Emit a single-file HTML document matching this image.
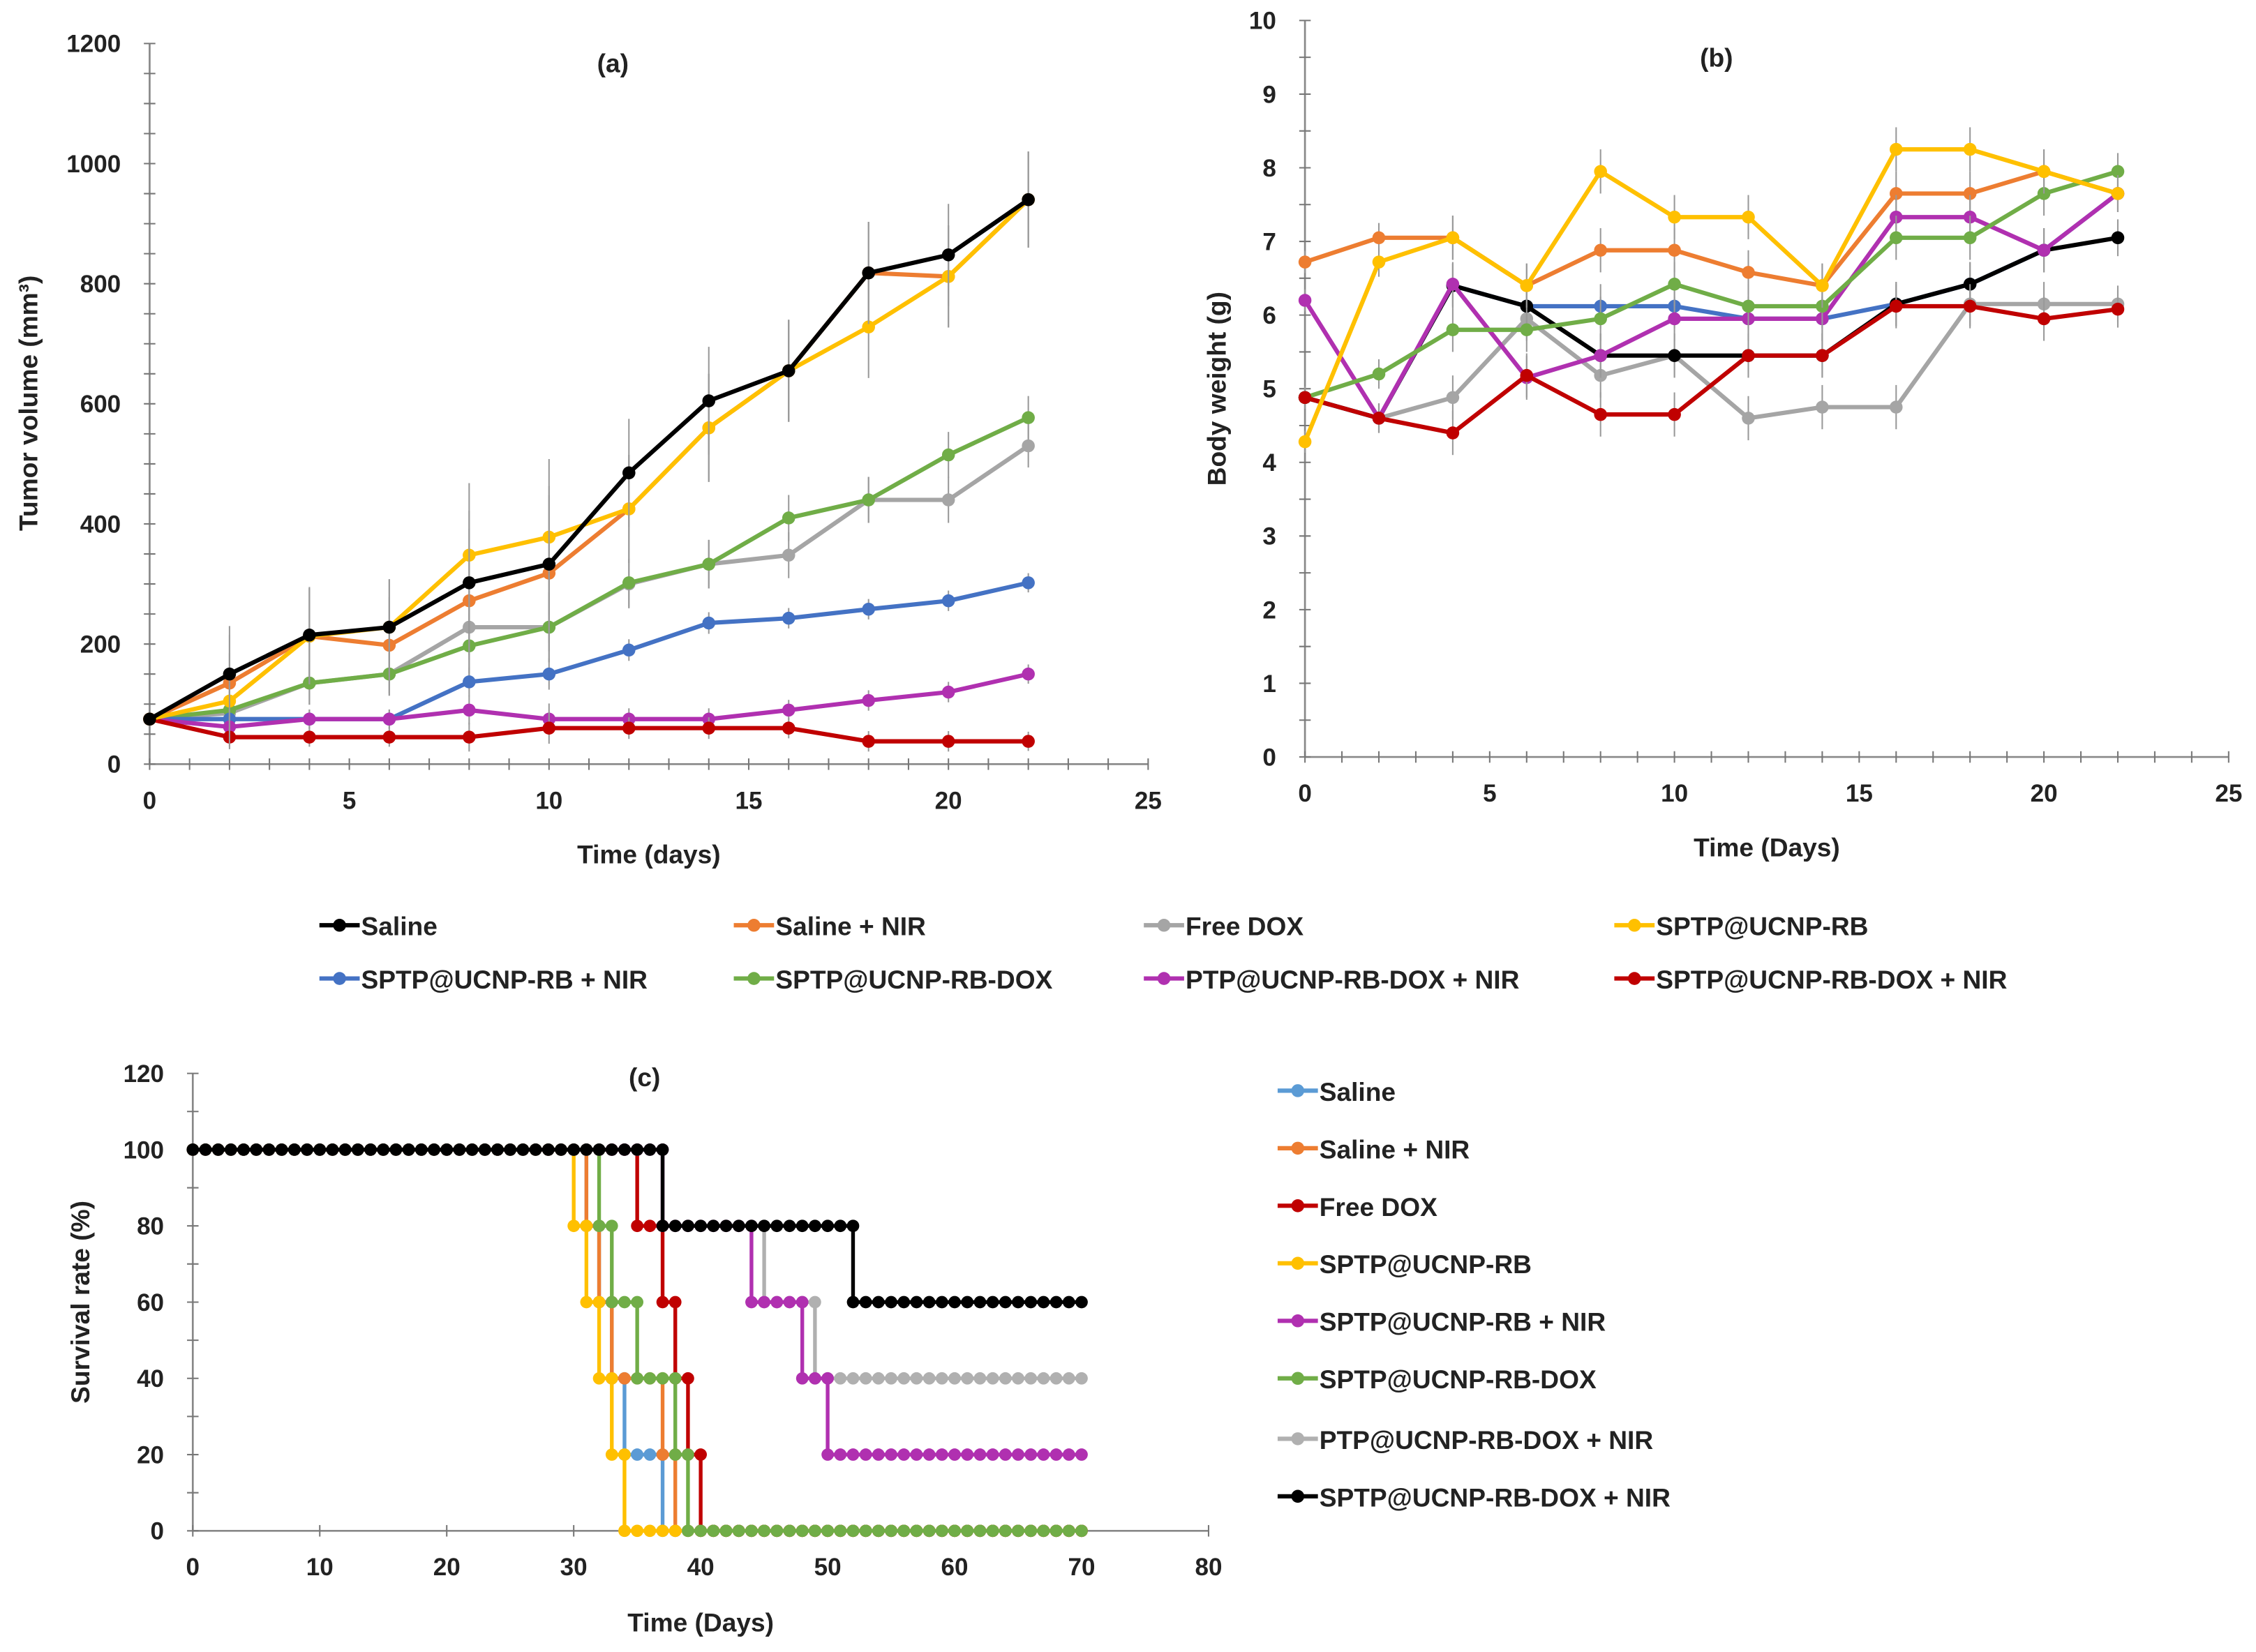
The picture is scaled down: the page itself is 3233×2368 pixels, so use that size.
<!DOCTYPE html>
<html><head><meta charset="utf-8"><style>
html,body{margin:0;padding:0;background:#fff;}
svg{display:block;font-family:"Liberation Sans",sans-serif;font-weight:bold;}
</style></head><body>
<svg id="fig" width="3233" height="2368" viewBox="0 0 1568 1148" xmlns="http://www.w3.org/2000/svg"></svg>
<script>
// ---------- data ----------
const daysA = [0,2,4,6,8,10,12,14,16,18,20,22];
const seriesNames = ["Saline","Saline + NIR","Free DOX","SPTP@UCNP-RB","SPTP@UCNP-RB + NIR","SPTP@UCNP-RB-DOX","PTP@UCNP-RB-DOX + NIR","SPTP@UCNP-RB-DOX + NIR"];
const colorsAB = ["#000000","#ED7D31","#A5A5A5","#FFC000","#4472C4","#70AD47","#B030B0","#C00000"];
const tumorSaline = [75,150,215,228,302,333,485,605,655,818,848,940];
const tumorSalineNIR = [75,135,213,198,272,318,425,560,655,818,812,940];
const tumorFreeDOX = [75,85,135,150,228,228,300,333,348,440,440,530];
const tumorRB = [75,105,213,228,348,378,425,560,655,728,812,940];
const tumorRBNIR = [75,75,75,75,137,150,190,235,243,258,272,302];
const tumorRBDOX = [75,90,135,150,197,228,302,333,410,440,515,577];
const tumorPTPNIR = [75,62,75,75,90,75,75,75,90,106,120,150];
const tumorSPTPNIR = [75,45,45,45,45,60,60,60,60,38,38,38];
const tumorErr = [10,80,80,80,120,130,90,90,85,85,85,80];
const weightSaline = [4.88,4.6,6.4,6.12,5.45,5.45,5.45,5.45,6.15,6.42,6.88,7.05];
const weightSalineNIR = [6.72,7.05,7.05,6.4,6.88,6.88,6.58,6.4,7.65,7.65,7.95,7.65];
const weightFreeDOX = [4.88,4.6,4.88,5.95,5.18,5.45,4.6,4.75,4.75,6.15,6.15,6.15];
const weightRB = [4.28,6.72,7.05,6.4,7.95,7.33,7.33,6.4,8.25,8.25,7.95,7.65];
const weightRBNIR = [4.88,4.6,6.4,6.12,6.12,6.12,5.95,5.95,6.15,6.42,6.88,7.65];
const weightRBDOX = [4.88,5.2,5.8,5.8,5.95,6.42,6.12,6.12,7.05,7.05,7.65,7.95];
const weightPTPNIR = [6.2,4.6,6.42,5.15,5.45,5.95,5.95,5.95,7.33,7.33,6.88,7.65];
const weightSPTPNIR = [4.88,4.6,4.4,5.18,4.65,4.65,5.45,5.45,6.12,6.12,5.95,6.08];
const weightErr = [0.15,0.2,0.3,0.3,0.3,0.3,0.3,0.3,0.3,0.3,0.3,0.25];
// survival: [day, new value] drop events
const survNames = ["Saline","Saline + NIR","Free DOX","SPTP@UCNP-RB","SPTP@UCNP-RB + NIR","SPTP@UCNP-RB-DOX","PTP@UCNP-RB-DOX + NIR","SPTP@UCNP-RB-DOX + NIR"];
const survColors = ["#5B9BD5","#ED7D31","#C00000","#FFC000","#B030B0","#70AD47","#B0B0B0","#000000"];
const survSaline = [[31,80],[32,60],[33,40],[34,20],[37,0]];
const survSalineNIR = [[31,80],[32,60],[33,40],[37,20],[38,0]];
const survFreeDOX = [[35,80],[37,60],[38,40],[39,20],[40,0]];
const survRB = [[30,80],[31,60],[32,40],[33,20],[34,0]];
const survRBNIR = [[37,80],[44,60],[48,40],[50,20]];
const survRBDOX = [[32,80],[33,60],[35,40],[38,20],[39,0]];
const survPTPNIR = [[37,80],[45,60],[49,40]];
const survSPTPNIR = [[37,80],[52,60]];
const survLastDay = 70;

const tumorAll=[tumorSaline,tumorSalineNIR,tumorFreeDOX,tumorRB,tumorRBNIR,tumorRBDOX,tumorPTPNIR,tumorSPTPNIR];
const weightAll=[weightSaline,weightSalineNIR,weightFreeDOX,weightRB,weightRBNIR,weightRBDOX,weightPTPNIR,weightSPTPNIR];
const survAll=[survSaline,survSalineNIR,survFreeDOX,survRB,survRBNIR,survRBDOX,survPTPNIR,survSPTPNIR];

// ---------- helpers ----------
const svg=document.getElementById('fig');
const NS="http://www.w3.org/2000/svg";
function mk(tag,attrs,parent,text){const e=document.createElementNS(NS,tag);for(const k in attrs)e.setAttribute(k,attrs[k]);if(text!==undefined)e.textContent=text;(parent||svg).appendChild(e);return e;}
function group(name){const g=mk('g',{});


return g;}

const A={x0:104,x1:798,y0:531,y1:30,xmax:25,ymax:1200};
const ax=d=>A.x0+(A.x1-A.x0)*d/A.xmax, ay=v=>A.y0-(A.y0-A.y1)*v/A.ymax;
const B={x0:907,x1:1549,y0:526,y1:14,xmax:25,ymax:10};
const bx=d=>B.x0+(B.x1-B.x0)*d/B.xmax, by=v=>B.y0-(B.y0-B.y1)*v/B.ymax;
const C={x0:134,x1:840,y0:1064,y1:746,xmax:80,ymax:120};
const cx=d=>C.x0+(C.x1-C.x0)*d/C.xmax, cy=v=>C.y0-(C.y0-C.y1)*v/C.ymax;

function axes(P,sx,sy,xticks,yticks,minorX,minorY,name){
  const g=group(name);
  mk('line',{x1:P.x0,y1:P.y0,x2:P.x1,y2:P.y0,stroke:'#888','stroke-width':1.3},g);
  mk('line',{x1:P.x0,y1:P.y0,x2:P.x0,y2:P.y1,stroke:'#888','stroke-width':1.3},g);
  for(let d=0;d<=P.xmax;d+=minorX){mk('line',{x1:sx(d),y1:P.y0-4,x2:sx(d),y2:P.y0+4,stroke:'#777','stroke-width':1},g);}
  for(let v=0;v<=P.ymax+1e-9;v+=minorY){mk('line',{x1:P.x0-4,y1:sy(v),x2:P.x0+4,y2:sy(v),stroke:'#777','stroke-width':1},g);}
  xticks.forEach(t=>{const e=mk('text',{x:sx(t),y:P.y0+31,'text-anchor':'middle','font-size':17,fill:'#222'},g,String(t));
    });
  yticks.forEach(t=>{const e=mk('text',{x:P.x0-20,y:sy(t)+6,'text-anchor':'end','font-size':17,fill:'#222'},g,String(t));
    });
}
function label(x,y,t,name,rot,size){const e=mk('text',{x:x,y:y,'text-anchor':'middle','font-size':size||18,fill:'#222',transform:rot?`rotate(-90 ${x} ${y})`:''},svg,t);


return e;}

// ---------- panel a ----------
axes(A,ax,ay,[0,5,10,15,20,25],[0,200,400,600,800,1000,1200],1,50,'panel-a-axes');
label(451,600,'Time (days)','panel-a-x-axis-title');
label(26,280,'Tumor volume (mm³)','panel-a-y-axis-title',true);
label(426,50,'(a)','panel-a-title');
function drawLineSeries(days,vals,err,sx,sy,color,name){
  const g=group(name);
  if(err){days.forEach((d,i)=>{mk('line',{x1:sx(d),y1:sy(vals[i]+err[i]),x2:sx(d),y2:sy(Math.max(0,vals[i]-err[i])),stroke:'#999','stroke-width':1},g);});}
  mk('polyline',{points:days.map((d,i)=>sx(d)+','+sy(vals[i])).join(' '),fill:'none',stroke:color,'stroke-width':3,'stroke-linejoin':'round'},g);
  days.forEach((d,i)=>{const c=mk('circle',{cx:sx(d),cy:sy(vals[i]),r:4.5,fill:color},g);
    });
}
const drawOrder=[2,5,4,6,7,1,3,0];
drawOrder.forEach(i=>drawLineSeries(daysA,tumorAll[i],(i<4||i==5)?tumorErr.map((e,k)=>e*(i==5||i==2?0.45:1)):tumorErr.map(e=>e*0.2),ax,ay,colorsAB[i],'tumor-series-'+i));

// ---------- panel b ----------
axes(B,bx,by,[0,5,10,15,20,25],[0,1,2,3,4,5,6,7,8,9,10],1,0.5,'panel-b-axes');
label(1228,595,'Time (Days)','panel-b-x-axis-title');
label(852,270,'Body weight (g)','panel-b-y-axis-title',true);
label(1193,46,'(b)','panel-b-title');
[2,4,0,1,6,5,7,3].forEach(i=>drawLineSeries(daysA,weightAll[i],weightErr,bx,by,colorsAB[i],'weight-series-'+i));

// ---------- legend a/b ----------
const legX=[222,510,795,1122], legY=[643,680];
seriesNames.forEach((n,i)=>{
  const x=legX[i%4], y=legY[Math.floor(i/4)];
  const g=group('legend-entry');
  mk('line',{x1:x,y1:y,x2:x+28,y2:y,stroke:colorsAB[i],'stroke-width':3},g);
  mk('circle',{cx:x+14,cy:y,r:4.5,fill:colorsAB[i]},g);
  mk('text',{x:x+29,y:y+7,'font-size':18,fill:'#222'},g,n);
});

// ---------- panel c ----------
axes(C,cx,cy,[0,10,20,30,40,50,60,70,80],[0,20,40,60,80,100,120],10,10,'panel-c-axes');
label(487,1134,'Time (Days)','panel-c-x-axis-title');
label(62,905,'Survival rate (%)','panel-c-y-axis-title',true);
label(448,755,'(c)','panel-c-title');
function drawSurv(events,color,name){
  const g=group(name);
  const pts=[];let v=100,k=0;
  for(let d=0;d<=survLastDay;d++){
    pts.push([d,v]);
    while(k<events.length&&events[k][0]===d){v=events[k][1];pts.push([d,v]);k++;}
  }
  mk('polyline',{points:pts.map(p=>cx(p[0])+','+cy(p[1])).join(' '),fill:'none',stroke:color,'stroke-width':2.6},g);
  pts.forEach(p=>{const c=mk('circle',{cx:cx(p[0]),cy:cy(p[1]),r:4.3,fill:color},g);
    });
}
[0,1,3,2,6,4,5,7].forEach(i=>drawSurv(survAll[i],survColors[i],'survival-series-'+i));
const legCY=[758,798,838,878,918,958,1000,1040];
survNames.forEach((n,i)=>{
  const g=group('survival-legend-entry');
  const x=888,y=legCY[i];
  mk('line',{x1:x,y1:y,x2:x+28,y2:y,stroke:survColors[i],'stroke-width':3},g);
  mk('circle',{cx:x+14,cy:y,r:4.5,fill:survColors[i]},g);
  mk('text',{x:x+29,y:y+7,'font-size':18,fill:'#222'},g,n);
});
</script>
</body></html>
